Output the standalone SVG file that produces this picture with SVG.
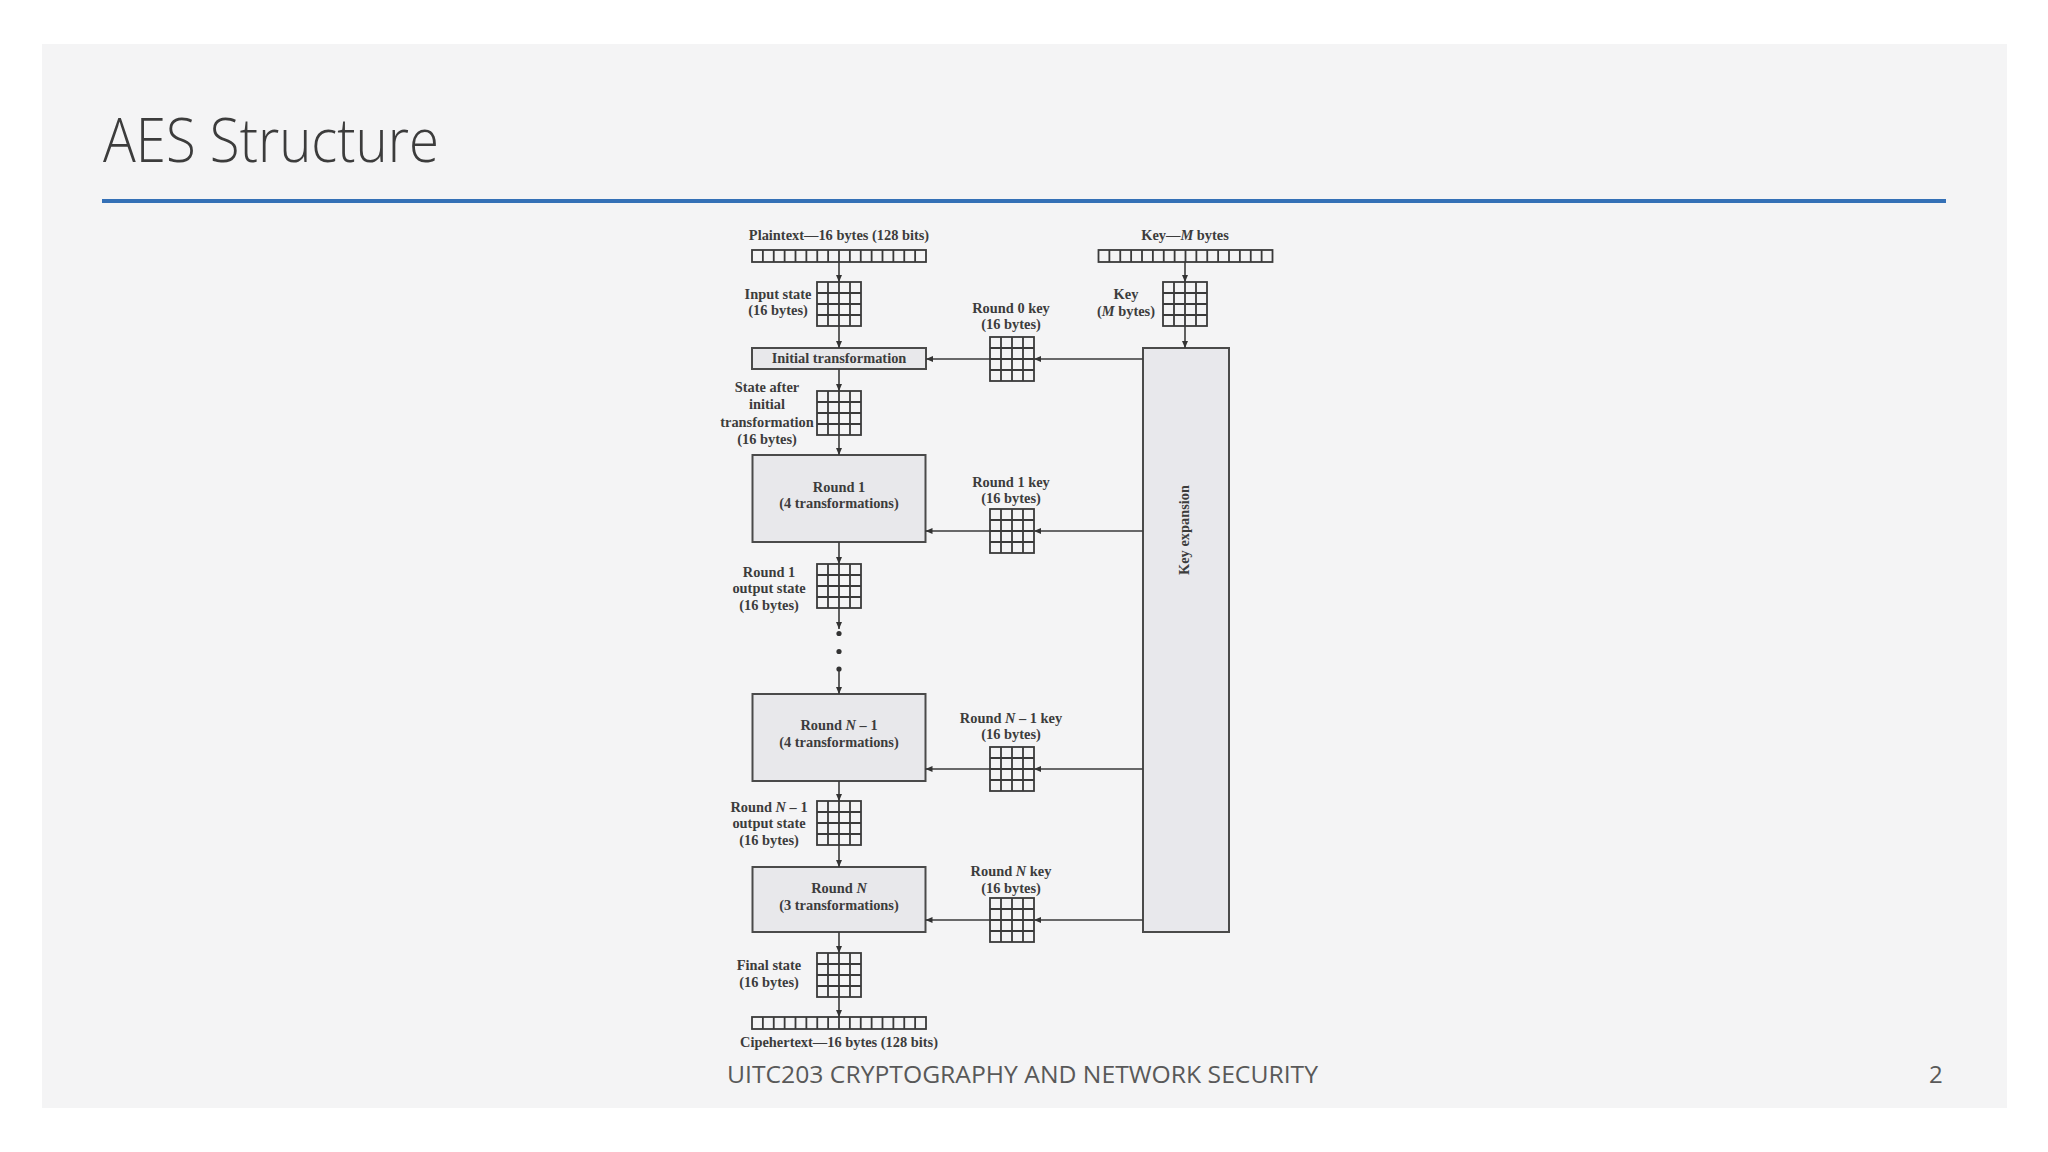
<svg xmlns="http://www.w3.org/2000/svg" xmlns:xlink="http://www.w3.org/1999/xlink" width="2048" height="1152" viewBox="0 0 2048 1152">
<style>
.lbl{font-family:"Liberation Serif","Times New Roman",serif;font-weight:bold;font-size:14.4px;fill:#3c3c3c;text-anchor:middle}
.it{font-style:italic}
.ln{stroke:#3a3a3a;stroke-width:1.8;fill:none}
.box{fill:#e8e8eb;stroke:#4a4a4a;stroke-width:2}
.conn{stroke:#3a3a3a;stroke-width:1.6;fill:none}
</style>
<defs>
<marker id="ah" markerWidth="8" markerHeight="8" refX="7" refY="4" orient="auto" markerUnits="userSpaceOnUse">
<path d="M0,1 L7,4 L0,7 z" fill="#333"/>
</marker>
<g id="grid" class="ln">
<rect x="0" y="0" width="44" height="44"/>
<path d="M11 0V44M22 0V44M33 0V44M0 11H44M0 22H44M0 33H44"/>
</g>
<g id="row" class="ln">
<rect x="0" y="0" width="174" height="12"/>
<path d="M10.875 0V12M21.75 0V12M32.625 0V12M43.5 0V12M54.375 0V12M65.25 0V12M76.125 0V12M87 0V12M97.875 0V12M108.75 0V12M119.625 0V12M130.5 0V12M141.375 0V12M152.25 0V12M163.125 0V12"/>
</g>
</defs>
<rect x="0" y="0" width="2048" height="1152" fill="#ffffff"/>
<rect x="42" y="44" width="1965" height="1064" fill="#f4f4f5"/>
<g id="title">
<text x="103" y="162" font-family="'Open Sans','Noto Sans',sans-serif" font-weight="300" font-size="60" fill="#3c3c3c" textLength="336" lengthAdjust="spacingAndGlyphs">AES Structure</text>
<rect x="102" y="199" width="1844" height="4" fill="#3470b6"/>
</g>
<g id="footer" font-family="'Open Sans','Noto Sans',sans-serif" font-size="24" fill="#595959">
<text x="727" y="1083" textLength="591" lengthAdjust="spacingAndGlyphs">UITC203 CRYPTOGRAPHY AND NETWORK SECURITY</text>
<text x="1929" y="1083">2</text>
</g>

<g id="plaintext">
<text class="lbl" x="839" y="240">Plaintext—16 bytes (128 bits)</text>
<use xlink:href="#row" x="752" y="250"/>
</g>
<g id="input-state">
<use xlink:href="#grid" x="817" y="282"/>
<text class="lbl" x="778" y="299">Input state</text>
<text class="lbl" x="778" y="315">(16 bytes)</text>
</g>
<g id="initial-transformation">
<rect class="box" x="752" y="348" width="174" height="21"/>
<text class="lbl" x="839" y="363">Initial transformation</text>
</g>
<g id="state-after-initial">
<use xlink:href="#grid" x="817" y="391"/>
<text class="lbl" x="767" y="392">State after</text>
<text class="lbl" x="767" y="409">initial</text>
<text class="lbl" x="767" y="426.5">transformation</text>
<text class="lbl" x="767" y="443.5">(16 bytes)</text>
</g>
<g id="round1">
<rect class="box" x="752.5" y="455" width="173" height="87"/>
<text class="lbl" x="839" y="491.5">Round 1</text>
<text class="lbl" x="839" y="508">(4 transformations)</text>
</g>
<g id="round1-output">
<use xlink:href="#grid" x="817" y="564"/>
<text class="lbl" x="769" y="576.5">Round 1</text>
<text class="lbl" x="769" y="593">output state</text>
<text class="lbl" x="769" y="610">(16 bytes)</text>
</g>
<g id="roundN1">
<rect class="box" x="752.5" y="694" width="173" height="87"/>
<text class="lbl" x="839" y="730">Round <tspan class="it">N</tspan> – 1</text>
<text class="lbl" x="839" y="746.5">(4 transformations)</text>
</g>
<g id="roundN1-output">
<use xlink:href="#grid" x="817" y="801"/>
<text class="lbl" x="769" y="811.5">Round <tspan class="it">N</tspan> – 1</text>
<text class="lbl" x="769" y="828">output state</text>
<text class="lbl" x="769" y="845">(16 bytes)</text>
</g>
<g id="roundN">
<rect class="box" x="752.5" y="867" width="173" height="65"/>
<text class="lbl" x="839" y="893">Round <tspan class="it">N</tspan></text>
<text class="lbl" x="839" y="910">(3 transformations)</text>
</g>
<g id="final-state">
<use xlink:href="#grid" x="817" y="953"/>
<text class="lbl" x="769" y="970">Final state</text>
<text class="lbl" x="769" y="987">(16 bytes)</text>
</g>
<g id="ciphertext">
<use xlink:href="#row" x="752" y="1017"/>
<text class="lbl" x="839" y="1047">Cipehertext—16 bytes (128 bits)</text>
</g>

<g id="key-bytes">
<text class="lbl" x="1185" y="240">Key—<tspan class="it">M</tspan> bytes</text>
<use xlink:href="#row" x="1098.5" y="250"/>
</g>
<g id="key-state">
<use xlink:href="#grid" x="1163" y="282"/>
<text class="lbl" x="1126" y="299">Key</text>
<text class="lbl" x="1126" y="315.5">(<tspan class="it">M</tspan> bytes)</text>
</g>
<g id="key-expansion">
<rect x="1143" y="348" width="86" height="584" fill="#e8e8ec" stroke="#4a4a4a" stroke-width="2"/>
<text class="lbl" transform="translate(1189,530) rotate(-90)" x="0" y="0">Key expansion</text>
</g>
<g id="round0-key">
<text class="lbl" x="1011" y="312.5">Round 0 key</text>
<text class="lbl" x="1011" y="329">(16 bytes)</text>
<use xlink:href="#grid" x="990" y="337"/>
</g>
<g id="round1-key">
<text class="lbl" x="1011" y="486.5">Round 1 key</text>
<text class="lbl" x="1011" y="503">(16 bytes)</text>
<use xlink:href="#grid" x="990" y="509"/>
</g>
<g id="roundN1-key">
<text class="lbl" x="1011" y="722.5">Round <tspan class="it">N</tspan> – 1 key</text>
<text class="lbl" x="1011" y="739">(16 bytes)</text>
<use xlink:href="#grid" x="990" y="747"/>
</g>
<g id="roundN-key">
<text class="lbl" x="1011" y="875.5">Round <tspan class="it">N</tspan> key</text>
<text class="lbl" x="1011" y="892.5">(16 bytes)</text>
<use xlink:href="#grid" x="990" y="898"/>
</g>

<g id="connectors" class="conn">
<path d="M839 262V282" marker-end="url(#ah)"/>
<path d="M839 326V348" marker-end="url(#ah)"/>
<path d="M839 369V391" marker-end="url(#ah)"/>
<path d="M839 435V455" marker-end="url(#ah)"/>
<path d="M839 542V564" marker-end="url(#ah)"/>
<path d="M839 608V629" marker-end="url(#ah)"/>
<path d="M839 670V694" marker-end="url(#ah)"/>
<path d="M839 781V801" marker-end="url(#ah)"/>
<path d="M839 845V867" marker-end="url(#ah)"/>
<path d="M839 932V953" marker-end="url(#ah)"/>
<path d="M839 997V1017" marker-end="url(#ah)"/>
<path d="M1185 262V282" marker-end="url(#ah)"/>
<path d="M1185 326V348" marker-end="url(#ah)"/>
<path d="M1143 359H1034" marker-end="url(#ah)"/>
<path d="M990 359H926" marker-end="url(#ah)"/>
<path d="M1143 531H1034" marker-end="url(#ah)"/>
<path d="M990 531H925.5" marker-end="url(#ah)"/>
<path d="M1143 769H1034" marker-end="url(#ah)"/>
<path d="M990 769H925.5" marker-end="url(#ah)"/>
<path d="M1143 920H1034" marker-end="url(#ah)"/>
<path d="M990 920H925.5" marker-end="url(#ah)"/>
<circle cx="839" cy="633.5" r="2.6" fill="#333" stroke="none"/>
<circle cx="839" cy="651.5" r="2.6" fill="#333" stroke="none"/>
<circle cx="839" cy="669" r="2.6" fill="#333" stroke="none"/>
</g>
</svg>
